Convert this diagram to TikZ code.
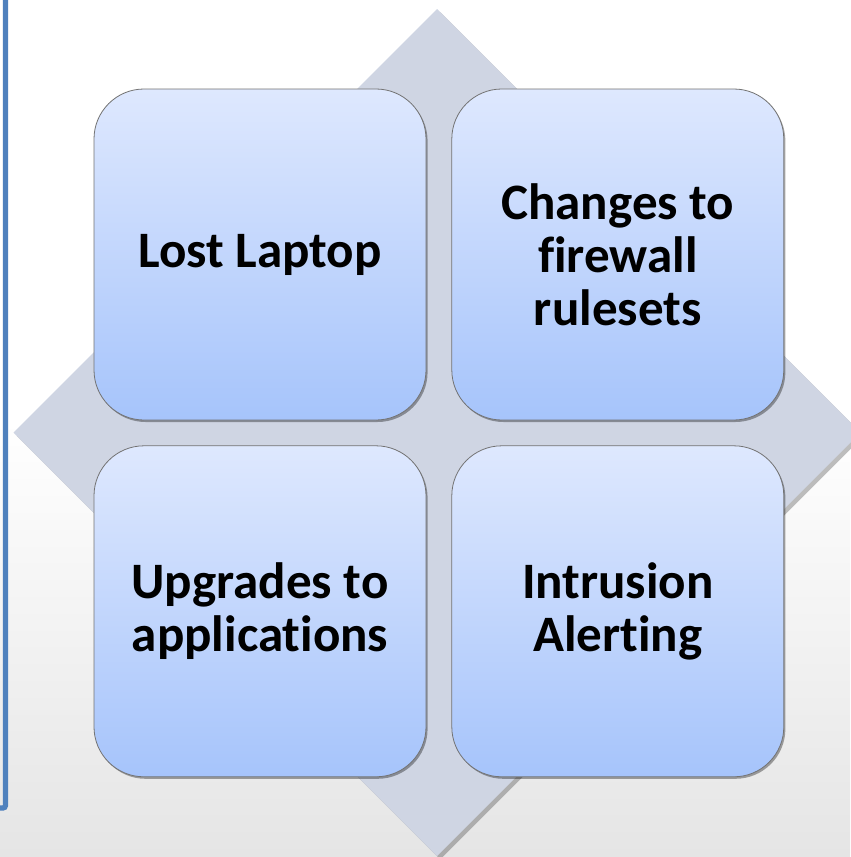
\documentclass[tikz,border=0pt]{standalone}
\usepackage{fontspec}
\setmainfont{Carlito}[Ligatures=NoCommon]
\usetikzlibrary{positioning,shadows}

\definecolor{frameblue}{RGB}{79,129,189}
\definecolor{diamfill}{RGB}{207,213,227}
\definecolor{tiletop}{RGB}{222,232,254}
\definecolor{tilebot}{RGB}{166,196,251}
\definecolor{bgbot}{RGB}{229,229,229}

\begin{document}
\begin{tikzpicture}[x=0.75pt,y=-0.75pt,
	tile/.style={draw=black!55, line width=0.6pt, rounded corners=37.5pt,
		top color=tiletop, bottom color=tilebot,
		minimum width=249pt, minimum height=248.25pt, inner sep=0pt,
		align=center, font=\fontsize{38.3}{39.75}\selectfont\bfseries,
		drop shadow={shadow xshift=1.2pt, shadow yshift=-1.5pt, opacity=0.35, fill=black}},
	node distance=18.75pt]
	\def \cx{437}
	\def \cy{432.5}
	\def \R{423.5}
	
	\useasboundingbox (0,0) rectangle (850,857);
	
	% background
	\fill[white] (0,0) rectangle (850,857);
	\shade[top color=white, bottom color=bgbot] (0,420) rectangle (850,857);
	
	% frame edge on the left
	\draw[frameblue, line width=4pt, rounded corners=2pt] (5.5,-5) -- (5.5,808) -- (-10,808);
	
	% diamond behind the tiles
	\fill[diamfill, drop shadow={shadow xshift=2.5pt, shadow yshift=-2.5pt, opacity=0.25, fill=black}]
		(\cx,\cy-\R) -- (\cx+\R,\cy) -- (\cx,\cy+\R) -- (\cx-\R,\cy) -- cycle;
	
	\node[tile] (lost) at (260,254.5) {Lost Laptop};
	\node[tile, right=of lost] (fire) {Changes to\\firewall\\rulesets};
	\node[tile, below=of lost] (upgr) {Upgrades to\\applications};
	\node[tile, right=of upgr] (intr) {Intrusion\\Alerting};
	
\end{tikzpicture}
\end{document}
